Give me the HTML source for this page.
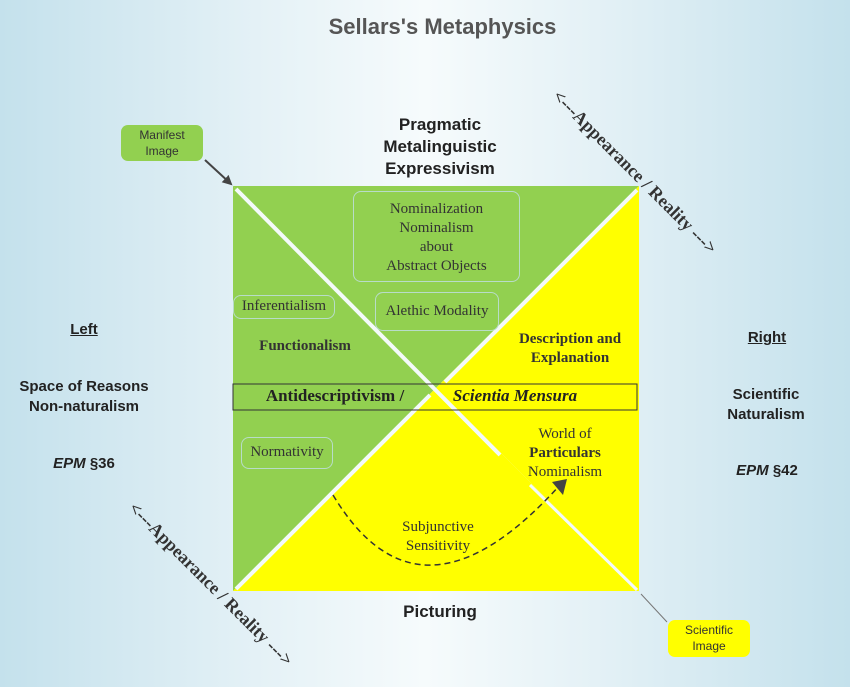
<!DOCTYPE html>
<html><head><style>
body{margin:0;width:850px;height:687px;overflow:hidden;position:relative;
background:linear-gradient(90deg,#c4e1ec 0%,#e4f1f6 30%,#f6fbfc 50%,#e4f1f6 70%,#c4e1ec 100%);
font-family:"Liberation Serif",serif;}
.a{position:absolute;text-align:center;white-space:nowrap}
.s{font-family:"Liberation Sans",sans-serif;font-weight:bold;color:#222}
.box{position:absolute;border:1px solid #b8dcc8;border-radius:8px;text-align:center;color:#333;font-size:15px}
</style></head><body>
<svg width="850" height="687" style="position:absolute;left:0;top:0">
<defs><marker id="ah" markerWidth="10" markerHeight="10" refX="8" refY="5" orient="auto" markerUnits="userSpaceOnUse"><path d="M0,0 L10,5 L0,10z" fill="#444"/></marker></defs>
<polygon points="233,186 639,186 436,388" fill="#92d050"/>
<polygon points="233,186 436,388 233,591" fill="#92d050"/>
<polygon points="639,186 639,591 436,388" fill="#ffff00"/>
<polygon points="233,591 639,591 436,388" fill="#ffff00"/>
<line x1="236" y1="589" x2="430" y2="395" stroke="#f4fafa" stroke-width="4"/>
<line x1="445" y1="382" x2="637" y2="190" stroke="#f4fafa" stroke-width="4"/>
<line x1="236" y1="189" x2="500" y2="455" stroke="#f4fafa" stroke-width="4"/>
<line x1="530" y1="485" x2="637" y2="590" stroke="#f4fafa" stroke-width="3"/>
<rect x="233" y="384" width="404" height="26" fill="none" stroke="#333" stroke-width="1"/>
<path d="M333,495 Q420,640 560,485" fill="none" stroke="#333" stroke-width="1.5" stroke-dasharray="6,4"/>
<polygon points="552,482 567,479 563,495" fill="#444"/>
<line x1="205" y1="160" x2="231" y2="184" stroke="#444" stroke-width="2" marker-end="url(#ah)"/>
<line x1="667" y1="622" x2="641" y2="594" stroke="#777" stroke-width="1"/>
<text x="635" y="178" transform="rotate(45 635 172)" text-anchor="middle" font-family="Liberation Serif" font-weight="bold" font-size="18" fill="#333">&lt;---Appearance / Reality ---&gt;</text>
<text x="211" y="590" transform="rotate(45 211 584)" text-anchor="middle" font-family="Liberation Serif" font-weight="bold" font-size="18" fill="#333">&lt;---Appearance / Reality ---&gt;</text>
</svg>
<div class="a s" style="left:0;width:885px;top:14px;font-size:22px;color:#555">Sellars's Metaphysics</div>
<div class="a s" style="left:340px;width:200px;top:114px;font-size:17px;line-height:22px">Pragmatic<br>Metalinguistic<br>Expressivism</div>
<div class="a s" style="left:340px;width:200px;top:602px;font-size:17px">Picturing</div>
<div style="position:absolute;left:121px;top:125px;width:82px;height:36px;background:#92d050;border-radius:7px;font-family:'Liberation Sans',sans-serif;font-size:12px;color:#333;text-align:center;line-height:16px;padding-top:2px;box-sizing:border-box">Manifest<br>Image</div>
<div style="position:absolute;left:668px;top:620px;width:82px;height:37px;background:#ffff00;border-radius:7px;font-family:'Liberation Sans',sans-serif;font-size:12px;color:#333;text-align:center;line-height:16px;padding-top:2px;box-sizing:border-box">Scientific<br>Image</div>
<div class="a s" style="left:44px;width:80px;top:321px;font-size:15px;text-decoration:underline">Left</div>
<div class="a s" style="left:0;width:168px;top:377px;font-size:15px;line-height:20px">Space of Reasons<br>Non-naturalism</div>
<div class="a s" style="left:44px;width:80px;top:455px;font-size:15px"><i>EPM</i> §36</div>
<div class="a s" style="left:727px;width:80px;top:329px;font-size:15px;text-decoration:underline">Right</div>
<div class="a s" style="left:706px;width:120px;top:385px;font-size:15px;line-height:20px">Scientific<br>Naturalism</div>
<div class="a s" style="left:727px;width:80px;top:462px;font-size:15px"><i>EPM</i> §42</div>
<div class="box" style="left:353px;top:191px;width:167px;height:91px;line-height:19px;padding-top:8px;box-sizing:border-box">Nominalization<br>Nominalism<br>about<br>Abstract Objects</div>
<div class="box" style="left:375px;top:292px;width:122px;height:37px;line-height:36px">Alethic Modality</div>
<div class="box" style="left:233px;top:295px;width:100px;height:22px;line-height:21px">Inferentialism</div>
<div class="box" style="left:241px;top:437px;width:90px;height:30px;line-height:29px">Normativity</div>
<div class="a" style="left:250px;width:110px;top:338px;font-size:15px;font-weight:bold;color:#333">Functionalism</div>
<div class="a" style="left:500px;width:140px;top:330px;font-size:15px;font-weight:bold;color:#333;line-height:19px">Description and<br>Explanation</div>
<div class="a" style="left:240px;width:190px;top:386px;font-size:17px;font-weight:bold;color:#222">Antidescriptivism /</div>
<div class="a" style="left:440px;width:150px;top:386px;font-size:17px;font-weight:bold;font-style:italic;color:#222">Scientia Mensura</div>
<div class="a" style="left:500px;width:130px;top:425px;font-size:15px;color:#333;line-height:19px">World of<br><b>Particulars</b><br>Nominalism</div>
<div class="a" style="left:378px;width:120px;top:518px;font-size:15px;color:#333;line-height:19px">Subjunctive<br>Sensitivity</div>
</body></html>
